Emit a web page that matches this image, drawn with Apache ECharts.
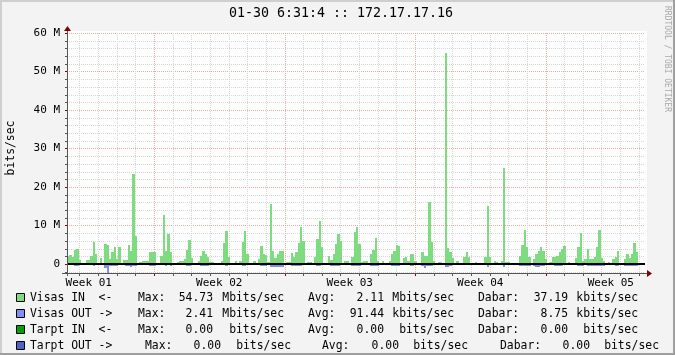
<!DOCTYPE html>
<html><head><meta charset="utf-8">
<script src="https://cdn.jsdelivr.net/npm/echarts@6/dist/echarts.min.js"></script>
<style>html,body{margin:0;padding:0;background:#f3f3f3}#c{width:675px;height:355px}</style>
</head><body><div id="c"></div>
<script>
// ---------------- data ----------------
const TITLE = '01-30 6:31:4 :: 172.17.17.16';
const Y_UNIT = 'bits/sec';
const WATERMARK = 'RRDTOOL / TOBI OETIKER';
const START_H = 56;   // hours after Monday 00:00 of Week 01
const END_H = 800;
const STEP_H = 3;     // hours per sample
const WEEK_LABELS = ['Week 01', 'Week 02', 'Week 03', 'Week 04', 'Week 05'];
const WEEK_LABEL_HOURS = [84, 252, 420, 588, 756];
const Y_TICKS = [0, 10, 20, 30, 40, 50, 60];   // Mbits/sec
const Y_MIN = -2.34, Y_MAX = 60;

// Visas IN (Mbits/sec), one value per 3 hours
const VISAS_IN = [
 2.0,2.3,1.7,3.6,4.0,1.0,0.2,0.3,1.1,1.1,
 2.2,5.7,2.5,0.3,1.5,0.1,5.3,5.0,1.3,3.0,
 4.4,1.3,4.4,0.1,1.0,1.1,5.0,3.5,23.5,7.2,
 0.1,0.4,0.9,0.9,0.9,3.2,3.1,3.1,0.2,0.2,
 2.0,12.7,3.5,7.9,3.1,0.1,0.1,0.4,0.7,0.9,
 1.3,3.7,6.3,1.6,0.1,0.3,0.7,2.2,3.5,2.6,
 1.9,0.4,0.4,0.3,0.3,0.3,0.8,5.4,8.5,1.8,
 0.2,0.2,0.8,0.1,0.9,5.7,8.5,2.6,0.1,0.1,
 0.7,0.1,1.3,4.6,2.5,2.4,0.4,15.6,3.5,1.5,
 2.5,3.3,3.3,0.1,0.4,0.4,2.8,1.9,3.0,5.4,
 9.5,6.0,0.1,0.6,0.6,0,1.8,6.6,11.2,4.4,
 0.1,0,2.0,1.1,2.5,5.3,7.9,6.1,0.1,0.9,
 0.9,0,1.8,8.3,9.5,5.1,0.4,0.7,0.9,0.2,
 2.6,3.7,6.8,0.9,0,0.9,0,0,0.9,2.6,
 3.3,5.0,4.8,0.2,1.6,1.8,0.9,2.6,2.6,0.7,
 0,0,3.1,2.2,2.2,16.0,5.7,0.9,0,0.4,
 0.4,0.1,54.73,4.1,3.1,1.5,0.2,0.7,0.1,0,
 1.8,3.1,1.8,0,0,0.4,0.3,0,0,1.9,
 15.1,1.8,0,0.9,0.5,0,0.9,25.0,0.4,0.4,
 0.3,0.3,0.3,0,2.2,5.0,8.8,4.4,1.8,0.3,
 1.3,2.6,3.5,4.4,3.5,1.3,0.3,0.4,1.8,1.8,
 2.2,3.1,4.0,4.8,0.2,0.4,0,0,1.6,4.4,
 8.1,0.9,1.3,4.0,1.3,1.3,1.9,4.4,8.8,1.6,
 0.9,0,0.4,0,1.3,1.8,3.5,0.2,0,1.3,
 2.6,1.6,2.5,5.4,3.0,0,0,0
];
// Visas OUT (Mbits/sec, drawn below zero)
const VISAS_OUT = [
 0,0,0,0.35,0.35,0,0,0,0,0,
 0,0.3,0,0,0,0,0.9,2.41,0.3,0.3,
 0.3,0.3,0,0,0,0.3,0.3,0.4,0.3,0.3,
 0,0,0,0,0,0.35,0.35,0.35,0,0,
 0,0,0.3,0,0.3,0,0,0,0,0,
 0,0.3,0.3,0,0,0,0,0.35,0.35,0.35,
 0.35,0,0,0,0,0,0,0,0.3,0,
 0,0,0,0,0,0.3,0.3,0,0,0,
 0,0,0,0.35,0.35,0.35,0,0.4,0.4,0.4,
 0.4,0.4,0.4,0,0,0,0.35,0.35,0.35,0.35,
 0.35,0,0,0,0,0,0,0.3,0.3,0,
 0,0,0,0.3,0.35,0.35,0.35,0,0,0,
 0,0,0.35,0.35,0.35,0.35,0,0,0,0,
 0.35,0.35,0.35,0.35,0,0,0,0,0,0.35,
 0.35,0.35,0.35,0,0,0,0,0.3,0.3,0,
 0,0,0.35,0.8,0.35,0.35,0.35,0,0,0,
 0,0,0.6,0.6,0.3,0,0,0,0,0,
 0,0,0,0,0,0,0,0,0,0,
 0.4,0,0,0,0,0,0,0.5,0,0,
 0,0,0,0,0.35,0.35,0.35,0.35,0.35,0,
 0.35,0.5,0.5,0.35,0.35,0,0,0,0,0.3,
 0.3,0.3,0.3,0,0,0,0,0,0,0.3,
 0.3,0.3,0,0.35,0.35,0.35,0.35,0.35,0.35,0.35,
 0.35,0,0,0,0,0.3,0.3,0,0,0.35,
 0.35,0.35,0.35,0.35,0.35,0,0,0
];

const LEGEND_NAMES = ['Visas IN  <-', 'Visas OUT ->', 'Tarpt IN  <-', 'Tarpt OUT ->'];
const LEGEND_COLORS = ['#7FDB7F', '#7F8FFA', '#00A000', '#4A64C4'];
const LEGEND_MAX = ['54.73', '2.41', '0.00', '0.00'];
const LEGEND_MAX_UNIT = ['Mbits/sec', 'Mbits/sec', 'bits/sec', 'bits/sec'];
const LEGEND_AVG = ['2.11', '91.44', '0.00', '0.00'];
const LEGEND_AVG_UNIT = ['Mbits/sec', 'kbits/sec', 'bits/sec', 'bits/sec'];
const LEGEND_DABAR = ['37.19', '8.75', '0.00', '0.00'];
const LEGEND_DABAR_UNIT = ['kbits/sec', 'kbits/sec', 'bits/sec', 'bits/sec'];

// ---------------- styling / layout ----------------
const FONT = "'DejaVu Sans Mono', monospace";
const C_IN = LEGEND_COLORS[0], C_OUT = LEGEND_COLORS[1];
const C_MINOR = '#D6D6D6', C_MAJOR = '#EBABAB', C_AXIS = '#555555', C_ARROW = '#800000';

const gridData = [[-1, 0, 0]]; // canvas
for (let v = -2; v <= Y_MAX; v += 2) {
  if (v === 0) continue;
  gridData.push([0, v, v % 10 === 0 ? 1 : 0]);
}
const dayLines = [];
for (let h = Math.ceil(START_H / 24) * 24; h < END_H; h += 24) dayLines.push(h);
dayLines.forEach(h => gridData.push([1, h, h % 168 === 0 ? 1 : 0]));

function renderGrid(params, api) {
  const cs = params.coordSys;
  const kind = api.value(0), v = api.value(1), major = api.value(2);
  if (kind === -1) {
    return { type: 'rect', shape: { x: cs.x, y: cs.y - 2, width: cs.width + 2, height: cs.height + 2 }, style: { fill: '#FFFFFF' }, silent: true };
  }
  let shape;
  if (kind === 0) {
    const y = Math.round(api.coord([START_H, v])[1]) + 0.5;
    shape = { x1: cs.x, y1: y, x2: cs.x + cs.width, y2: y };
  } else {
    const x = Math.round(api.coord([v, 0])[0]) + 0.5;
    shape = { x1: x, y1: cs.y, x2: x, y2: cs.y + cs.height };
  }
  return { type: 'line', shape, style: { stroke: major ? C_MAJOR : C_MINOR, lineWidth: 1, lineDash: [1, 1] }, silent: true };
}

function makeBars(values) {
  return values.map((v, i) => [START_H + i * STEP_H, START_H + (i + 1) * STEP_H, v]);
}
function renderBar(sign, color) {
  return function (params, api) {
    const v = api.value(2);
    if (!v) return null;
    const a = api.coord([api.value(0), 0]);
    const b = api.coord([api.value(1), sign * v]);
    const x0 = Math.round(a[0]), x1 = Math.round(b[0]);
    const y0 = Math.round(a[1]);
    let y1 = Math.round(b[1]);
    if (sign < 0) y1 = Math.max(y1 + 1, y0 + 2);
    const top = Math.min(y0, y1), h = Math.abs(y1 - y0);
    if (h < 1) return null;
    return { type: 'rect', shape: { x: x0, y: top, width: Math.max(1, x1 - x0), height: h }, style: { fill: color }, silent: true };
  };
}

function renderAxes(params, api) {
  const cs = params.coordSys;
  const left = cs.x, right = cs.x + cs.width, top = cs.y, bottom = cs.y + cs.height;
  const y0 = Math.round(api.coord([START_H, 0])[1]);
  const ch = [];
  ch.push({ type: 'rect', shape: { x: left, y: y0 - 1, width: cs.width, height: 2 }, style: { fill: '#000' } });
  ch.push({ type: 'line', shape: { x1: left - 5, y1: bottom + 0.5, x2: right + 2, y2: bottom + 0.5 }, style: { stroke: C_AXIS, lineWidth: 1 } });
  ch.push({ type: 'line', shape: { x1: left + 0.5, y1: bottom + 3, x2: left + 0.5, y2: top - 2 }, style: { stroke: C_AXIS, lineWidth: 1 } });
  ch.push({ type: 'polygon', shape: { points: [[right + 2, bottom - 3], [right + 7, bottom + 0.5], [right + 2, bottom + 4]] }, style: { fill: C_ARROW } });
  ch.push({ type: 'polygon', shape: { points: [[left - 3, top - 2], [left + 0.5, top - 7], [left + 4, top - 2]] }, style: { fill: C_ARROW } });
  for (let v = -2; v <= Y_MAX; v += 2) {
    const y = Math.round(api.coord([START_H, v])[1]) + 0.5;
    ch.push({ type: 'line', shape: { x1: left - 2, y1: y, x2: left, y2: y }, style: { stroke: v % 10 === 0 ? C_ARROW : C_AXIS, lineWidth: 1 } });
  }
  dayLines.forEach(h => {
    const x = Math.round(api.coord([h, 0])[0]) + 0.5;
    ch.push({ type: 'line', shape: { x1: x, y1: bottom + 1, x2: x, y2: bottom + 3 }, style: { stroke: h % 168 === 0 ? C_ARROW : C_AXIS, lineWidth: 1 } });
  });
  return { type: 'group', children: ch };
}

// legend graphics
const ROW_Y = [298, 314, 330, 346];
const ROW_POS = [
  [138, 213, 284, 308, 384, 454, 478, 568, 638],
  [138, 213, 284, 308, 384, 454, 478, 568, 638],
  [138, 213, 284, 308, 384, 454, 478, 568, 638],
  [145, 221, 291, 322, 399, 468, 500, 590, 659]
];
const graphics = [];
function txt(x, y, text, align, extra) {
  return Object.assign({ type: 'text', x, y, silent: true,
    style: { text, fill: '#000', font: '11.4px ' + FONT, textAlign: align || 'left', textVerticalAlign: 'middle' } }, extra || {});
}
// frame
graphics.push({ type: 'rect', shape: { x: 0, y: 0, width: 675, height: 2 }, style: { fill: '#CFCFCF' }, silent: true });
graphics.push({ type: 'rect', shape: { x: 0, y: 0, width: 2, height: 355 }, style: { fill: '#CFCFCF' }, silent: true });
graphics.push({ type: 'rect', shape: { x: 673, y: 0, width: 2, height: 355 }, style: { fill: '#9E9E9E' }, silent: true });
graphics.push({ type: 'rect', shape: { x: 0, y: 353, width: 675, height: 2 }, style: { fill: '#9E9E9E' }, silent: true });
graphics.push({ type: 'text', x: 341, y: 14, silent: true, style: { text: TITLE, fill: '#000', font: '13.3px ' + FONT, textAlign: 'center', textVerticalAlign: 'middle' } });
graphics.push({ type: 'text', x: 11, y: 148, rotation: Math.PI / 2, silent: true, style: { text: Y_UNIT, fill: '#000', font: '11.4px ' + FONT, textAlign: 'center', textVerticalAlign: 'middle' } });
graphics.push({ type: 'text', x: 667, y: 59, rotation: -Math.PI / 2, silent: true, style: { text: WATERMARK, fill: '#A8A8A8', font: '8px ' + FONT, textAlign: 'center', textVerticalAlign: 'middle' } });
LEGEND_NAMES.forEach((name, i) => {
  const y = ROW_Y[i], p = ROW_POS[i];
  graphics.push({ type: 'rect', shape: { x: 16.5, y: y - 4.5, width: 8, height: 8 }, style: { fill: LEGEND_COLORS[i], stroke: '#000', lineWidth: 1 }, silent: true });
  graphics.push(txt(30, y, name));
  graphics.push(txt(p[0], y, 'Max:'));
  graphics.push(txt(p[1], y, LEGEND_MAX[i], 'right'));
  graphics.push(txt(p[2], y, LEGEND_MAX_UNIT[i], 'right'));
  graphics.push(txt(p[3], y, 'Avg:'));
  graphics.push(txt(p[4], y, LEGEND_AVG[i], 'right'));
  graphics.push(txt(p[5], y, LEGEND_AVG_UNIT[i], 'right'));
  graphics.push(txt(p[6], y, 'Dabar:'));
  graphics.push(txt(p[7], y, LEGEND_DABAR[i], 'right'));
  graphics.push(txt(p[8], y, LEGEND_DABAR_UNIT[i], 'right'));
});

const chart = echarts.init(document.getElementById('c'), null, { renderer: 'canvas' });
chart.setOption({
  animation: false,
  backgroundColor: '#F3F3F3',
  grid: { left: 67, top: 33, width: 578, height: 240, containLabel: false },
  xAxis: {
    type: 'value', min: START_H, max: END_H,
    axisLine: { show: false }, axisTick: { show: false }, splitLine: { show: false },
    axisLabel: {
      customValues: WEEK_LABEL_HOURS, margin: 5,
      formatter: v => WEEK_LABELS[WEEK_LABEL_HOURS.indexOf(v)] || '',
      fontFamily: 'DejaVu Sans Mono', fontSize: 11, color: '#000'
    }
  },
  yAxis: {
    type: 'value', min: Y_MIN, max: Y_MAX,
    axisLine: { show: false }, axisTick: { show: false }, splitLine: { show: false },
    axisLabel: {
      customValues: Y_TICKS, margin: 7,
      formatter: v => v === 0 ? '0' : v + ' M',
      fontFamily: 'DejaVu Sans Mono', fontSize: 11, color: '#000'
    }
  },
  graphic: graphics,
  series: [
    { type: 'custom', z: 1, renderItem: renderGrid, data: gridData, silent: true },
    { type: 'custom', z: 2, renderItem: renderBar(1, C_IN), data: makeBars(VISAS_IN), encode: { x: [0, 1], y: 2 }, silent: true },
    { type: 'custom', z: 2, renderItem: renderBar(-1, C_OUT), data: makeBars(VISAS_OUT), encode: { x: [0, 1], y: 2 }, silent: true },
    { type: 'custom', z: 3, renderItem: renderAxes, data: [[START_H, 0]], silent: true }
  ]
});
</script>
</body></html>
